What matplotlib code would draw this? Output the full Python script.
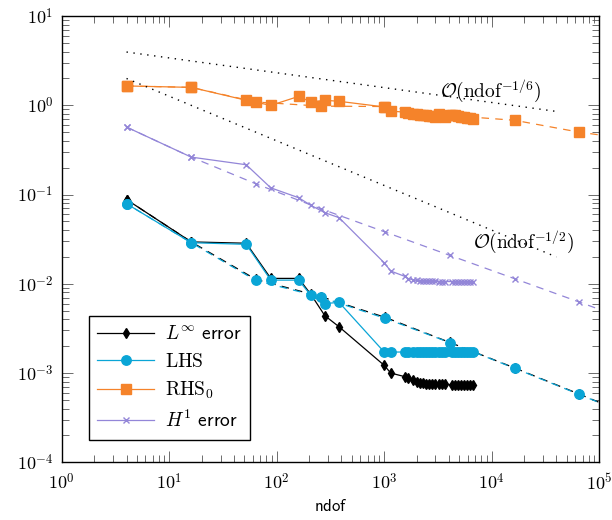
import math
import matplotlib
matplotlib.use("Agg")
import matplotlib.pyplot as plt
from matplotlib.ticker import LogLocator, FuncFormatter, NullFormatter

plt.rcParams['mathtext.fontset'] = 'cm'

# adaptive refinement (solid lines)
x_adapt = [4, 16, 52, 88, 160, 208, 280, 380, 1000, 1150, 1560, 1680, 1850, 2000,
           2150, 2300, 2450, 2600, 2800, 3000, 3200, 3450, 3700, 4300, 4600, 4900,
           5200, 5500, 5900, 6300, 6700]
linf_adapt = [0.088, 0.0295, 0.0285, 0.0115, 0.0115, 0.0076, 0.0044, 0.0033, 0.00122,
              0.00100, 0.00091, 0.00087, 0.00083, 0.00080, 0.00078, 0.00077, 0.00076,
              0.00076, 0.00075, 0.00075, 0.00075, 0.00075, 0.00075, 0.00074, 0.00074,
              0.00074, 0.00074, 0.00074, 0.00074, 0.00074, 0.00074]
lhs_adapt = [0.079, 0.0289, 0.0277, 0.0110, 0.0110, 0.0074, 0.0060, 0.0062, 0.00172,
             0.00172, 0.00172, 0.00172, 0.00172, 0.00172, 0.00172, 0.00172, 0.00172,
             0.00172, 0.00172, 0.00172, 0.00172, 0.00172, 0.00172, 0.00172, 0.00172,
             0.00172, 0.00172, 0.00172, 0.00172, 0.00172, 0.00172]
rhs_adapt = [1.65, 1.59, 1.14, 1.00, 1.26, 1.09, 1.14, 1.11, 0.96, 0.86, 0.84, 0.82,
             0.80, 0.79, 0.78, 0.77, 0.77, 0.76, 0.76, 0.75, 0.80, 0.76, 0.75, 0.78,
             0.77, 0.76, 0.75, 0.74, 0.73, 0.72, 0.71]
h1_adapt = [0.571, 0.263, 0.216, 0.119, 0.0922, 0.0757, 0.0627, 0.0551, 0.0172, 0.0139,
            0.0121, 0.0114, 0.0111, 0.0109, 0.0108, 0.0108, 0.0107, 0.0107, 0.0107,
            0.0107, 0.0106, 0.0106, 0.0106, 0.0106, 0.0106, 0.0106, 0.0105, 0.0105,
            0.0105, 0.0105, 0.0105]

# uniform refinement (dashed lines)
x_unif = [4, 16, 64, 256, 1024, 4096, 16384, 65536, 262144]
linf_unif = [0.088, 0.0295, 0.0112, 0.0072, 0.0042, 0.0022, 0.00114, 0.00058, 0.00029]
lhs_unif = [0.079, 0.0289, 0.0109, 0.0071, 0.0041, 0.00219, 0.00113, 0.000575, 0.00029]
rhs_unif = [1.65, 1.59, 1.09, 0.98, 0.97, 0.77, 0.68, 0.50, 0.40]
h1_unif = [0.571, 0.263, 0.132, 0.0695, 0.038, 0.0208, 0.0114, 0.00624, 0.0034]

# reference slopes
ref_x = [4, 40000]
ref_16 = [3.96, 0.855]
ref_12 = [2.0, 0.02]

c_linf = 'black'
c_lhs = '#0aa5d6'
c_rhs = '#f5832a'
c_h1 = '#9386d8'

fig = plt.figure(figsize=(6.12, 5.2), dpi=100)
ax = fig.add_axes([0.101, 0.111, 0.878, 0.858])

dash = (0, (6, 5))
ax.plot(x_unif, linf_unif, color=c_linf, lw=0.9, ls=dash, marker='d', ms=5)
ax.plot(x_adapt, linf_adapt, color=c_linf, lw=0.9, marker='d', ms=5,
        label=r'$L^\infty$ $\mathsf{error}$')
ax.plot(x_unif, lhs_unif, color=c_lhs, lw=0.9, ls=(3, (6, 5)), marker='o', ms=6.8)
ax.plot(x_adapt, lhs_adapt, color=c_lhs, lw=0.9, marker='o', ms=6.8,
        label=r'$\mathrm{LHS}$')
ax.plot(x_unif, rhs_unif, color=c_rhs, lw=0.9, ls=dash, marker='s', ms=7)
ax.plot(x_adapt, rhs_adapt, color=c_rhs, lw=0.9, marker='s', ms=7,
        label=r'$\mathrm{RHS}_0$')
ax.plot(x_unif, h1_unif, color=c_h1, lw=0.9, ls=dash, marker='x', ms=5)
ax.plot(x_adapt, h1_adapt, color=c_h1, lw=0.9, marker='x', ms=5,
        label=r'$H^1$ $\mathsf{error}$')

ax.plot(ref_x, ref_16, color='black', lw=1.0, ls=(0, (1, 4)))
ax.plot(ref_x, ref_12, color='black', lw=1.0, ls=(0, (1, 4)))
ax.text(9800, 1.47, r'$\mathcal{O}(\mathrm{ndof}^{-1/6})$', fontsize=14,
        ha='center', va='center')
ax.text(19600, 0.0294, r'$\mathcal{O}(\mathrm{ndof}^{-1/2})$', fontsize=14,
        ha='center', va='center')

ax.set_xscale('log')
ax.set_yscale('log')
ax.set_xlim(1, 1e5)
ax.set_ylim(1e-4, 10)

fmt = FuncFormatter(lambda v, p: r'$10^{%d}$' % round(math.log10(v)))
for axis in (ax.xaxis, ax.yaxis):
    axis.set_major_locator(LogLocator(base=10, numticks=10))
    axis.set_minor_locator(LogLocator(base=10, subs=range(2, 10), numticks=10))
    axis.set_major_formatter(fmt)
    axis.set_minor_formatter(NullFormatter())
ax.tick_params(which='both', direction='in', top=True, right=True, labelsize=13,
               color='#555555')
ax.tick_params(which='major', length=8, width=0.6)
ax.tick_params(which='minor', length=5, width=0.6)
ax.tick_params(axis='x', which='major', pad=8)
ax.tick_params(axis='y', which='major', pad=6)
for s in ax.spines.values():
    s.set_linewidth(1.0)

ax.set_xlabel(r'$\mathsf{ndof}$', fontsize=12, labelpad=2)

leg = ax.legend(loc='lower left', bbox_to_anchor=(0.05, 0.05), borderaxespad=0,
                fontsize=14, handlelength=2.9, labelspacing=0.45, fancybox=False,
                framealpha=1, edgecolor='black', borderpad=0.45, handletextpad=0.55)
leg.get_frame().set_linewidth(1.0)

fig.savefig('out.png', dpi=100)
